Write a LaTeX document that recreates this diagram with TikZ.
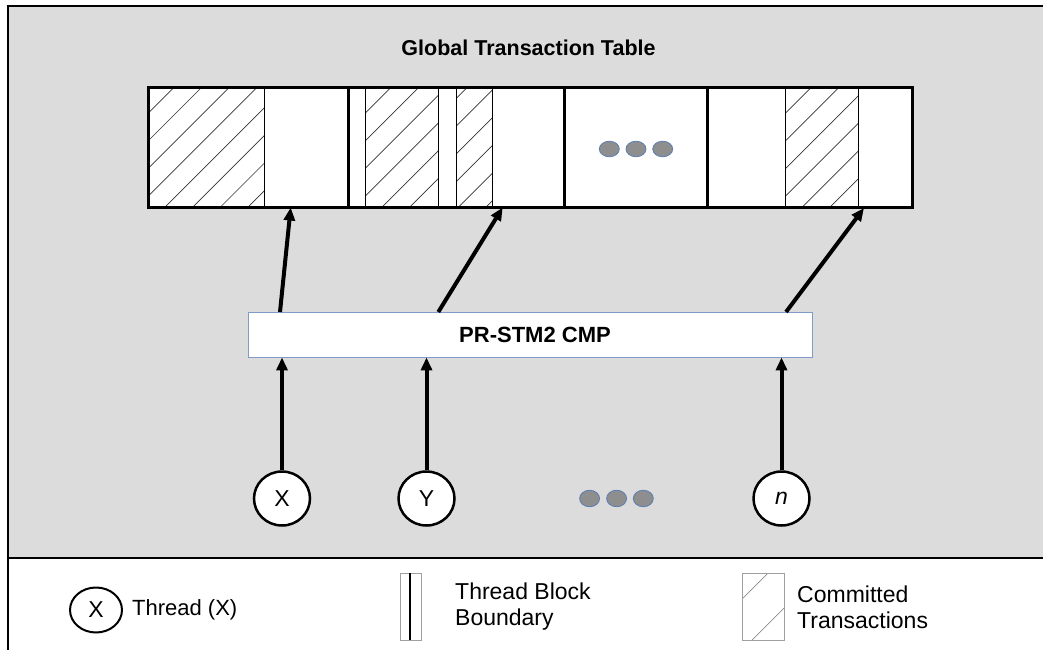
\documentclass[tikz,border=0pt]{standalone}
\usepackage{fontspec}
\setmainfont{Liberation Sans}
\usetikzlibrary{arrows.meta,shapes.geometric}

\definecolor{panel}{HTML}{DCDCDC}
\definecolor{dotfill}{HTML}{8E8E8E}
\definecolor{dotedge}{HTML}{5B7DB1}
\definecolor{boxedge}{HTML}{7F9CC8}
\definecolor{legendedge}{HTML}{A0A0A0}

% diagonal hatching of a rectangle: x1, y1, x2, y2, phase, colour
\newcommand{\hatchrect}[6]{%
  \begin{scope}
    \clip (#1,#2) rectangle (#3,#4);
    \foreach \k in {-6,...,16}{
      \draw[line width=0.7pt,#6] ({#1+#5+\k*27.7},#2) -- ++(-300,300);
    }
  \end{scope}}

\tikzset{
  arr/.style={line width=4pt,-{Triangle[length=13pt,width=11pt]}},
  thread/.style={ellipse,draw,line width=2.5pt,fill=white,minimum width=56pt,
    minimum height=54pt,inner sep=0pt,font=\fontsize{23}{27}\selectfont},
  dotn/.style={ellipse,draw=dotedge,line width=0.8pt,fill=dotfill,minimum width=20pt,
    minimum height=15.5pt,inner sep=0pt},
  cmpbox/.style={draw=boxedge,line width=0.8pt,fill=white,minimum width=564pt,
    minimum height=45pt,inner sep=0pt,font=\bfseries\fontsize{22}{25}\selectfont},
  title/.style={font=\bfseries\fontsize{21.5}{25}\selectfont},
  legtext/.style={anchor=west,align=left,inner sep=0pt,font=\fontsize{23}{26}\selectfont},
  frame/.style={line width=2pt},
}

\begin{document}
\begin{tikzpicture}[x=1pt,y=-1pt]
\useasboundingbox (0,0) rectangle (1043,650);

% background panel and frame
\fill[panel] (7.5,6.5) rectangle (1043,558);
\draw[frame] (6.5,6.5) -- (1043,6.5);
\draw[frame] (7.5,6) -- (7.5,650);
\draw[frame] (6.5,558) -- (1043,558);

% title
\node[title] (ttl) at (528.5,48) {Global Transaction Table};

% global transaction table
\fill[white] (148,88) rectangle (912,207);
\hatchrect{148}{88}{264.3}{207}{25.3}{black!80}
\hatchrect{365}{88}{438.3}{207}{25.3}{black!80}
\hatchrect{456.7}{88}{492.3}{207}{10}{black!80}
\hatchrect{785.3}{88}{858.3}{207}{25.3}{black!80}
\foreach \xx in {264.3,365,438.3,456.7,492.3,785.3,858.3}
  \draw[line width=1pt] (\xx,88) -- (\xx,207);
\foreach \xx in {348.5,564.7,707.5}
  \draw[line width=3pt] (\xx,88) -- (\xx,207);
\draw[line width=3pt] (148,88) rectangle (912,207);

% ellipsis inside the table
\node[dotn] (td1) at (609.3,149) {};
\node[dotn] (td2) at (636,149) {};
\node[dotn] (td3) at (662.7,149) {};

% table entry points
\coordinate (e1) at (290.7,207.5);
\coordinate (e2) at (502.7,207.5);
\coordinate (e3) at (864,208);

% contention manager
\node[cmpbox] (cmp) at (530,334.5) {\hspace*{10pt}PR-STM2 CMP};
\coordinate (s1) at (280,312);
\coordinate (s2) at (438.3,312);
\coordinate (s3) at (786,312);

\draw[arr] (s1) -- (e1);
\draw[arr] (s2) -- (e2);
\draw[arr] (s3) -- (e3);

% threads
\node[thread] (tx) at (282,498.5) {X};
\node[thread] (ty) at (426.5,498.5) {Y};
\node[thread] (tn) at (781.5,498.5) {\itshape n};
\node[dotn,minimum height=16.5pt] (bd1) at (589.6,498.5) {};
\node[dotn,minimum height=16.5pt] (bd2) at (616.6,498.5) {};
\node[dotn,minimum height=16.5pt] (bd3) at (643.3,498.5) {};

\draw[arr] (tx.north) -- (tx.north |- cmp.south);
\draw[arr] (ty.north) -- (ty.north |- cmp.south);
\draw[arr] (tn.north) -- (tn.north |- cmp.south);

% legend
\node[thread,minimum width=52pt,minimum height=45pt,line width=2pt] (lx) at (96,610) {X};
\node[legtext,font=\fontsize{22}{26}\selectfont] (lxt) at (132,610) {Thread (X)};

\draw[legendedge,line width=1pt,fill=white] (400,573) rectangle (421,640);
\draw[line width=2.5pt] (410,573) -- (410,640);
\node[legtext] (lbt) at (455,607) {Thread Block\\Boundary};

\begin{scope}
  \clip (742,573) rectangle (784,640);
  \draw[line width=0.7pt,black!45] (742,599) -- (768,573);
  \draw[line width=0.7pt,black!45] (752,640) -- (784,608);
\end{scope}
\draw[legendedge,line width=1pt] (742,573) rectangle (784,640);
\node[legtext] (lct) at (797,607) {Committed\\Transactions};
\end{tikzpicture}
\end{document}
